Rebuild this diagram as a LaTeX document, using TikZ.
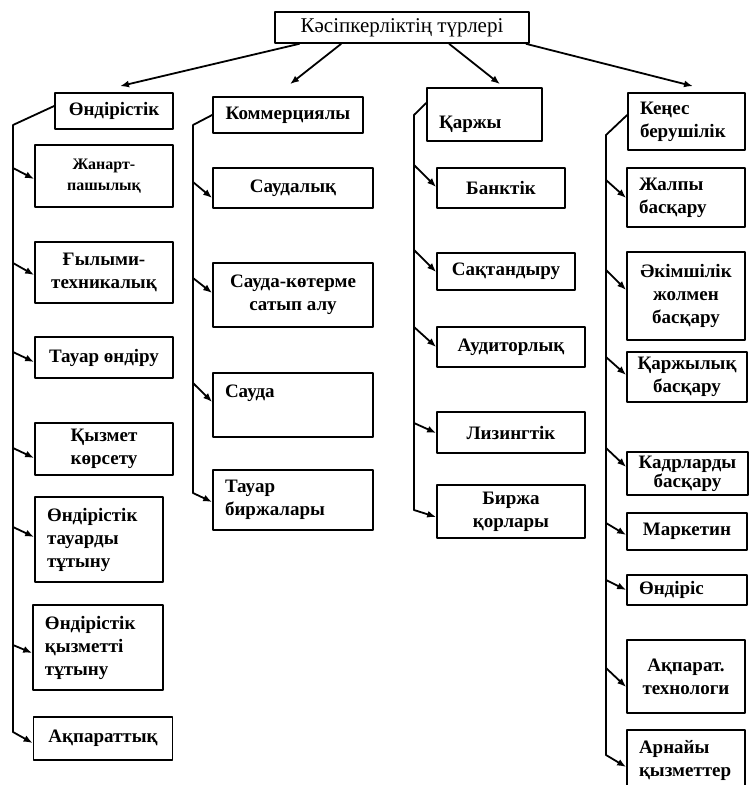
\documentclass[tikz,border=0pt]{standalone}
\usepackage{fontspec}
\setmainfont{Liberation Serif}
\usetikzlibrary{calc}
\usetikzlibrary{arrows.meta}

\begin{document}
\begin{tikzpicture}[x=1pt,y=-1pt,line cap=round,line join=round,
  box/.style={draw,line width=1.7pt,align=center,inner sep=2pt,
    font=\bfseries\fontsize{19}{23}\selectfont},
  lbox/.style={box,align=left,inner xsep=12pt},
  title/.style={box,font=\fontsize{21}{25}\selectfont},
  sz/.style 2 args={minimum width=#1pt,minimum height=#2pt},
  line/.style={line width=1.8pt},
  arr/.style={line width=1.8pt,-{Latex[length=9pt,width=7pt]}},
  ]
  \useasboundingbox (0,0) rectangle (750,785);
  % TOP
  \node[title,sz={254}{31}] (top) at (402,27.5) {Кәсіпкерліктің түрлері};
  % column 1
  \node[box,sz={118}{36}] (ond)   at (114,111)   {Өндірістік};
  \node[box,sz={138}{62},font=\bfseries\fontsize{16}{21}\selectfont]
                          (zhan)  at (104,176)   {Жанарт-\\пашылық};
  \node[box,sz={138}{61}] (gyl)   at (104,272.5) {Ғылыми-\\техникалық};
  \node[box,sz={138}{41}] (tauar) at (104,357.5) {Тауар өндіру};
  \node[box,sz={138}{52}] (kyzm)  at (104,449)   {Қызмет\\көрсету};
  \node[lbox,text width=104pt,minimum height=85pt] (ondtau) at (99,539.5) {Өндірістік\\тауарды\\тұтыну};
  \node[lbox,text width=106pt,minimum height=85pt] (ondkyz) at (98,647.5) {Өндірістік\\қызметті\\тұтыну};
  \node[box,sz={139}{43}] (akpar) at (103,738.5) {Ақпараттық};
  % column 2
  \node[box,sz={150}{36}] (komm)    at (288,115) {Коммерциялы};
  \node[box,sz={160}{40}] (saud)    at (293,188) {Саудалық};
  \node[box,sz={160}{64}] (saudkot) at (293,295) {Сауда-көтерме\\сатып алу};
  \node[lbox,text width=136pt,minimum height=64pt,text depth=28pt] (sauda) at (293,405) {Сауда};
  \node[lbox,text width=136pt,minimum height=60pt] (birzh) at (293,500) {Тауар\\биржалары};
  % column 3
  \node[lbox,text width=91pt,minimum height=53pt,text height=32pt] (karzhy) at (484.5,114.5) {Қаржы};
  \node[box,sz={128}{40}] (bank)     at (501,188)   {Банктік};
  \node[box,sz={138}{37}] (sakt)     at (506,271.5) {Сақтандыру};
  \node[box,sz={148}{40}] (audit)    at (511,347)   {Аудиторлық};
  \node[box,sz={148}{41}] (lizing)   at (511,432.5) {Лизингтік};
  \node[box,sz={148}{53}] (birzhkor) at (511,511.5) {Биржа\\қорлары};
  % column 4
  \node[lbox,text width=93pt,minimum height=57pt] (kenes)  at (686.5,121.5) {Кеңес\\берушілік};
  \node[lbox,text width=94pt,minimum height=59pt] (zhalpy) at (686,197.5)   {Жалпы\\басқару};
  \node[box,sz={118}{88}] (akim)     at (686,296)   {Әкімшілік\\жолмен\\басқару};
  \node[box,sz={120}{50}] (karzhbas) at (687,377)   {Қаржылық\\басқару};
  \node[box,sz={121}{43},inner ysep=0pt,font=\bfseries\fontsize{19}{19}\selectfont]
                          (kadr)     at (687.5,473.5) {Кадрларды\\басқару};
  \node[box,sz={120}{37}] (market)   at (687,531.5) {Маркетин};
  \node[lbox,text width=96pt,minimum height=30pt] (ondiris) at (687,590) {Өндіріс};
  \node[box,sz={118}{73}] (akpartex) at (686,676.5) {Ақпарат.\\технологи};
  \node[lbox,text width=94pt,minimum height=60pt] (arnayy) at (686,760) {Арнайы\\қызметтер};

  % ARROWS from the top box
  \draw[arr] ($(top.south west)+(25,0)$)  -- ($(ond.north)+(6,-6)$);
  \draw[arr] ($(top.south west)+(67,0)$)  -- ($(komm.north)+(2,-12)$);
  \draw[arr] ($(top.south west)+(175,0)$) -- ($(karzhy.north)+(15.5,-3)$);
  \draw[arr] ($(top.south west)+(252,0)$) -- ($(kenes.north)+(6.5,-6)$);

  % vertical lines
  \coordinate (b1top) at (13,125);  \coordinate (b1bot) at (13,732);
  \coordinate (b2top) at (193,125); \coordinate (b2bot) at (193,493);
  \coordinate (b3top) at (414,115); \coordinate (b3bot) at (414,510);
  \coordinate (b4top) at (606,135); \coordinate (b4bot) at (606,755);
  \draw[line] ($(ond.west)+(0,-5)$)      -- (b1top) -- (b1bot);
  \draw[line] (komm.west)                -- (b2top) -- (b2bot);
  \draw[line] ($(karzhy.west)+(0,-11.5)$) -- (b3top) -- (b3bot);
  \draw[line] ($(kenes.west)+(0,-6.5)$)  -- (b4top) -- (b4bot);

  % branches
  \foreach \n/\s/\e in {zhan/-8/3,gyl/-9.5/2.5,tauar/-5.5/4.5,kyzm/-1/9,
                        ondtau/-12.5/-2.5,ondkyz/-2.5/5.5,akpar/-6.5/4.5}
    \draw[arr] ($(\n.west -| b1top)+(0,\s)$) -- ($(\n.west)+(0,\e)$);
  \foreach \n/\s/\e in {saud/-6/10,saudkot/-17/-2,sauda/-22/-3,birzh/-7/2}
    \draw[arr] ($(\n.west -| b2top)+(0,\s)$) -- ($(\n.west)+(0,\e)$);
  \foreach \n/\s/\e in {bank/-23/-1,sakt/-21.5/0.5,audit/-20/0,lizing/-9.5/0.5,birzhkor/-1.5/5.5}
    \draw[arr] ($(\n.west -| b3top)+(0,\s)$) -- ($(\n.west)+(0,\e)$);
  \foreach \n/\s/\e in {zhalpy/-17.5/0.5,akim/-26/-6,karzhbas/-20/-2,kadr/-25.5/-6.5,
                        market/-8.5/3.5,ondiris/-10/0,akpartex/-8.5/10.5,arnayy/-5/7}
    \draw[arr] ($(\n.west -| b4top)+(0,\s)$) -- ($(\n.west)+(0,\e)$);
\end{tikzpicture}
\end{document}
